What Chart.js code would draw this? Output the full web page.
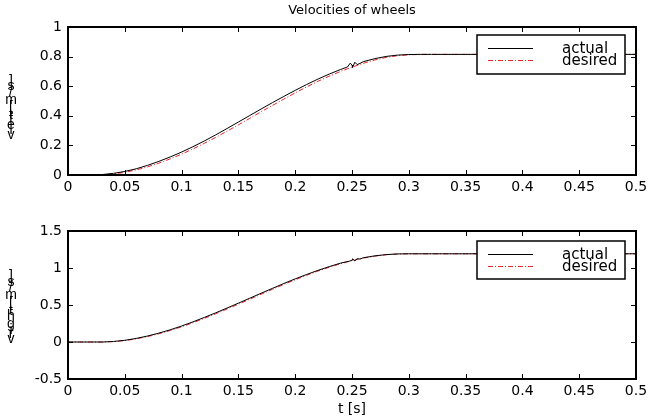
<!DOCTYPE html>
<html>
<head>
<meta charset="utf-8">
<script src="https://cdn.jsdelivr.net/npm/chart.js@4.4.0/dist/chart.umd.min.js"></script>
<style>
html, body { margin: 0; padding: 0; background: #fff; }
#wrap { position: relative; width: 653px; height: 420px; }
.box { position: absolute; left: 0; width: 653px; }
</style>
</head>
<body>
<div id="wrap">
  <div class="box" style="top:0;height:200px"><canvas id="leftChart" width="653" height="200"></canvas></div>
  <div class="box" style="top:200px;height:220px"><canvas id="rightChart" width="653" height="220"></canvas></div>
</div>
<script>
// === data ===
const times = [0,0.01,0.02,0.03,0.04,0.05,0.06,0.07,0.08,0.09,
  0.10,0.11,0.12,0.13,0.14,0.15,0.16,0.17,0.18,0.19,
  0.20,0.21,0.22,0.23,0.24,0.25,0.26,0.27,0.28,0.29,
  0.30,0.31,0.32,0.33,0.34,0.35,0.36,0.37,0.38,0.39,
  0.40,0.41,0.42,0.43,0.44,0.45,0.46,0.47,0.48,0.49,0.50];

// upper plot: v_left
const leftActual = [0,0,0,0.003,0.011,0.024,0.042,0.065,0.092,0.122,
  0.155,0.191,0.230,0.271,0.314,0.358,0.402,0.446,0.489,0.531,
  0.572,0.611,0.648,0.682,0.713,0.742,0.766,0.786,0.801,0.810,
  0.814,0.815,0.815,0.815,0.815,0.815,0.815,0.815,0.815,0.815,
  0.815,0.815,0.815,0.815,0.815,0.815,0.815,0.815,0.815,0.815,0.815];
const leftDesired = [0,0,0,0.001,0.007,0.018,0.034,0.055,0.080,0.109,
  0.141,0.176,0.214,0.254,0.296,0.339,0.383,0.427,0.470,0.513,
  0.555,0.595,0.633,0.668,0.700,0.729,0.755,0.777,0.794,0.806,
  0.812,0.815,0.815,0.815,0.815,0.815,0.815,0.815,0.815,0.815,
  0.815,0.815,0.815,0.815,0.815,0.815,0.815,0.815,0.815,0.815,0.815];
const leftWiggleTimes = [0.246,0.2485,0.2505,0.2525,0.2545,0.257];
const leftWiggle = [0.730,0.756,0.727,0.762,0.746,0.754];

// lower plot: v_right
const rightActual = [0,0,0,0,0.007,0.023,0.048,0.081,0.120,0.165,
  0.216,0.272,0.332,0.394,0.459,0.525,0.592,0.659,0.725,0.791,
  0.853,0.912,0.968,1.019,1.066,1.106,1.139,1.164,1.181,1.190,
  1.192,1.192,1.192,1.192,1.192,1.192,1.192,1.192,1.192,1.192,
  1.192,1.192,1.192,1.192,1.192,1.192,1.192,1.192,1.192,1.192,1.192];
const rightDesired = [0,0,0,0,0.005,0.019,0.042,0.073,0.111,0.155,
  0.205,0.260,0.319,0.381,0.445,0.511,0.578,0.645,0.712,0.778,
  0.841,0.901,0.958,1.010,1.058,1.099,1.133,1.160,1.179,1.189,
  1.192,1.192,1.192,1.192,1.192,1.192,1.192,1.192,1.192,1.192,
  1.192,1.192,1.192,1.192,1.192,1.192,1.192,1.192,1.192,1.192,1.192];
const rightWiggleTimes = [0.248,0.2505,0.2525,0.2545,0.257];
const rightWiggle = [1.094,1.124,1.096,1.126,1.121];

const xTicks = [0,0.05,0.1,0.15,0.2,0.25,0.3,0.35,0.4,0.45,0.5];
const xTickLabels = ['0','0.05','0.1','0.15','0.2','0.25','0.3','0.35','0.4','0.45','0.5'];
const leftYTicks = [0,0.2,0.4,0.6,0.8,1];
const leftYLabels = ['0','0.2','0.4','0.6','0.8','1'];
const rightYTicks = [-0.5,0,0.5,1,1.5];
const rightYLabels = ['-0.5','0','0.5','1','1.5'];

// === helpers ===
Chart.defaults.font.family = 'DejaVu Sans';
Chart.defaults.color = '#000';
const FONT = {family: 'DejaVu Sans', size: 14};
const RED = '#e8262c';

function toPoints(xs, ys) {
  return xs.map((x, i) => ({x: x, y: ys[i]}));
}
function withWiggle(xs, ys, wx, wy) {
  return toPoints(xs, ys).concat(toPoints(wx, wy)).sort((a, b) => a.x - b.x);
}

// inward ticks + frame, matlab style
const framePlugin = {
  id: 'frame',
  afterDraw(chart) {
    const {ctx, chartArea: a, scales} = chart;
    ctx.save();
    ctx.strokeStyle = '#000';
    ctx.lineWidth = 1;
    ctx.beginPath();
    scales.x.ticks.forEach(t => {
      const px = Math.round(scales.x.getPixelForValue(t.value)) + 0.5;
      ctx.moveTo(px, a.bottom); ctx.lineTo(px, a.bottom - 5);
      ctx.moveTo(px, a.top); ctx.lineTo(px, a.top + 5);
    });
    scales.y.ticks.forEach(t => {
      const py = Math.round(scales.y.getPixelForValue(t.value)) + 0.5;
      ctx.moveTo(a.left, py); ctx.lineTo(a.left + 5, py);
      ctx.moveTo(a.right, py); ctx.lineTo(a.right - 5, py);
    });
    ctx.stroke();
    ctx.lineWidth = 2;
    ctx.strokeRect(Math.round(a.left), Math.round(a.top), Math.round(a.right - a.left), Math.round(a.bottom - a.top));
    ctx.restore();
  }
};

// legend box, stacked y label, title
const decorPlugin = {
  id: 'decor',
  afterDraw(chart, args, opts) {
    const {ctx, chartArea: a} = chart;
    ctx.save();
    // legend
    const lg = opts.legend;
    ctx.fillStyle = '#fff';
    ctx.fillRect(lg.x, lg.y, lg.w, lg.h);
    ctx.strokeStyle = '#000';
    ctx.lineWidth = 1.5;
    ctx.strokeRect(lg.x, lg.y, lg.w, lg.h);
    chart.data.datasets.forEach((ds, i) => {
      const y = lg.y + 13 + i * 12;
      ctx.beginPath();
      ctx.setLineDash(ds.borderDash || []);
      ctx.strokeStyle = ds.borderColor;
      ctx.lineWidth = 1;
      ctx.moveTo(lg.x + 11, y + 0.5);
      ctx.lineTo(lg.x + 56, y + 0.5);
      ctx.stroke();
      ctx.setLineDash([]);
      ctx.fillStyle = '#000';
      ctx.font = '15px "DejaVu Sans"';
      ctx.textAlign = 'left';
      ctx.textBaseline = 'middle';
      ctx.fillText(ds.label, lg.x + 85, y + 1);
    });
    // y label: upright glyphs stacked bottom to top
    ctx.font = '14px "Liberation Sans"';
    ctx.textAlign = 'center';
    ctx.textBaseline = 'middle';
    ctx.fillStyle = '#000';
    let cy = opts.yLabelBottom;
    for (const ch of opts.yLabel) {
      const w = ctx.measureText(ch).width;
      ctx.fillText(ch, 11, cy - w / 2);
      cy -= w;
    }
    // title
    if (opts.title) {
      ctx.font = '13px "DejaVu Sans"';
      ctx.textBaseline = 'middle';
      ctx.fillText(opts.title, (a.left + a.right) / 2, 11);
    }
    ctx.restore();
  }
};

function makeChart(id, actualPts, desiredPts, yMin, yMax, yTicks, yLabels, cfg) {
  return new Chart(document.getElementById(id), {
    type: 'line',
    data: {
      datasets: [
        {label: 'actual', data: actualPts, borderColor: '#000', borderWidth: 1,
         pointRadius: 0, tension: 0, fill: false},
        {label: 'desired', data: desiredPts, borderColor: RED, borderWidth: 1,
         borderDash: [5, 2, 1, 2], pointRadius: 0, tension: 0, fill: false}
      ]
    },
    options: {
      responsive: false,
      animation: false,
      events: [],
      layout: {padding: {top: cfg.padTop, right: 17, left: 0, bottom: 0}},
      plugins: {
        legend: {display: false},
        tooltip: {enabled: false},
        decor: cfg.decor
      },
      scales: {
        x: {
          type: 'linear', min: 0, max: 0.5,
          afterBuildTicks: s => { s.ticks = xTicks.map(v => ({value: v})); },
          ticks: {callback: (v, i) => xTickLabels[i], font: FONT, color: '#000',
                  padding: 4, maxRotation: 0, autoSkip: false},
          grid: {display: false, drawTicks: false},
          border: {display: false},
          title: cfg.xTitle ? {display: true, text: cfg.xTitle, font: FONT, color: '#000',
                               padding: {top: 0, bottom: 2}} : {display: false},
          afterFit: s => { s.height = cfg.xHeight; }
        },
        y: {
          min: yMin, max: yMax,
          afterBuildTicks: s => { s.ticks = yTicks.map(v => ({value: v})); },
          ticks: {callback: (v, i) => yLabels[i], font: FONT, color: '#000', padding: 6, autoSkip: false},
          grid: {display: false, drawTicks: false},
          border: {display: false},
          afterFit: s => { s.width = 68; }
        }
      }
    },
    plugins: [framePlugin, decorPlugin]
  });
}

makeChart('leftChart',
  withWiggle(times, leftActual, leftWiggleTimes, leftWiggle),
  toPoints(times, leftDesired),
  0, 1, leftYTicks, leftYLabels,
  {padTop: 27, xHeight: 25,
   decor: {legend: {x: 477, y: 35, w: 148, h: 39}, yLabel: 'vleft [m/s]', yLabelBottom: 139,
           title: 'Velocities of wheels'}});

makeChart('rightChart',
  withWiggle(times, rightActual, rightWiggleTimes, rightWiggle),
  toPoints(times, rightDesired),
  -0.5, 1.5, rightYTicks, rightYLabels,
  {padTop: 31, xHeight: 41, xTitle: 't [s]',
   decor: {legend: {x: 477, y: 41, w: 148, h: 38}, yLabel: 'vright [m/s]', yLabelBottom: 143}});
</script>
</body>
</html>
